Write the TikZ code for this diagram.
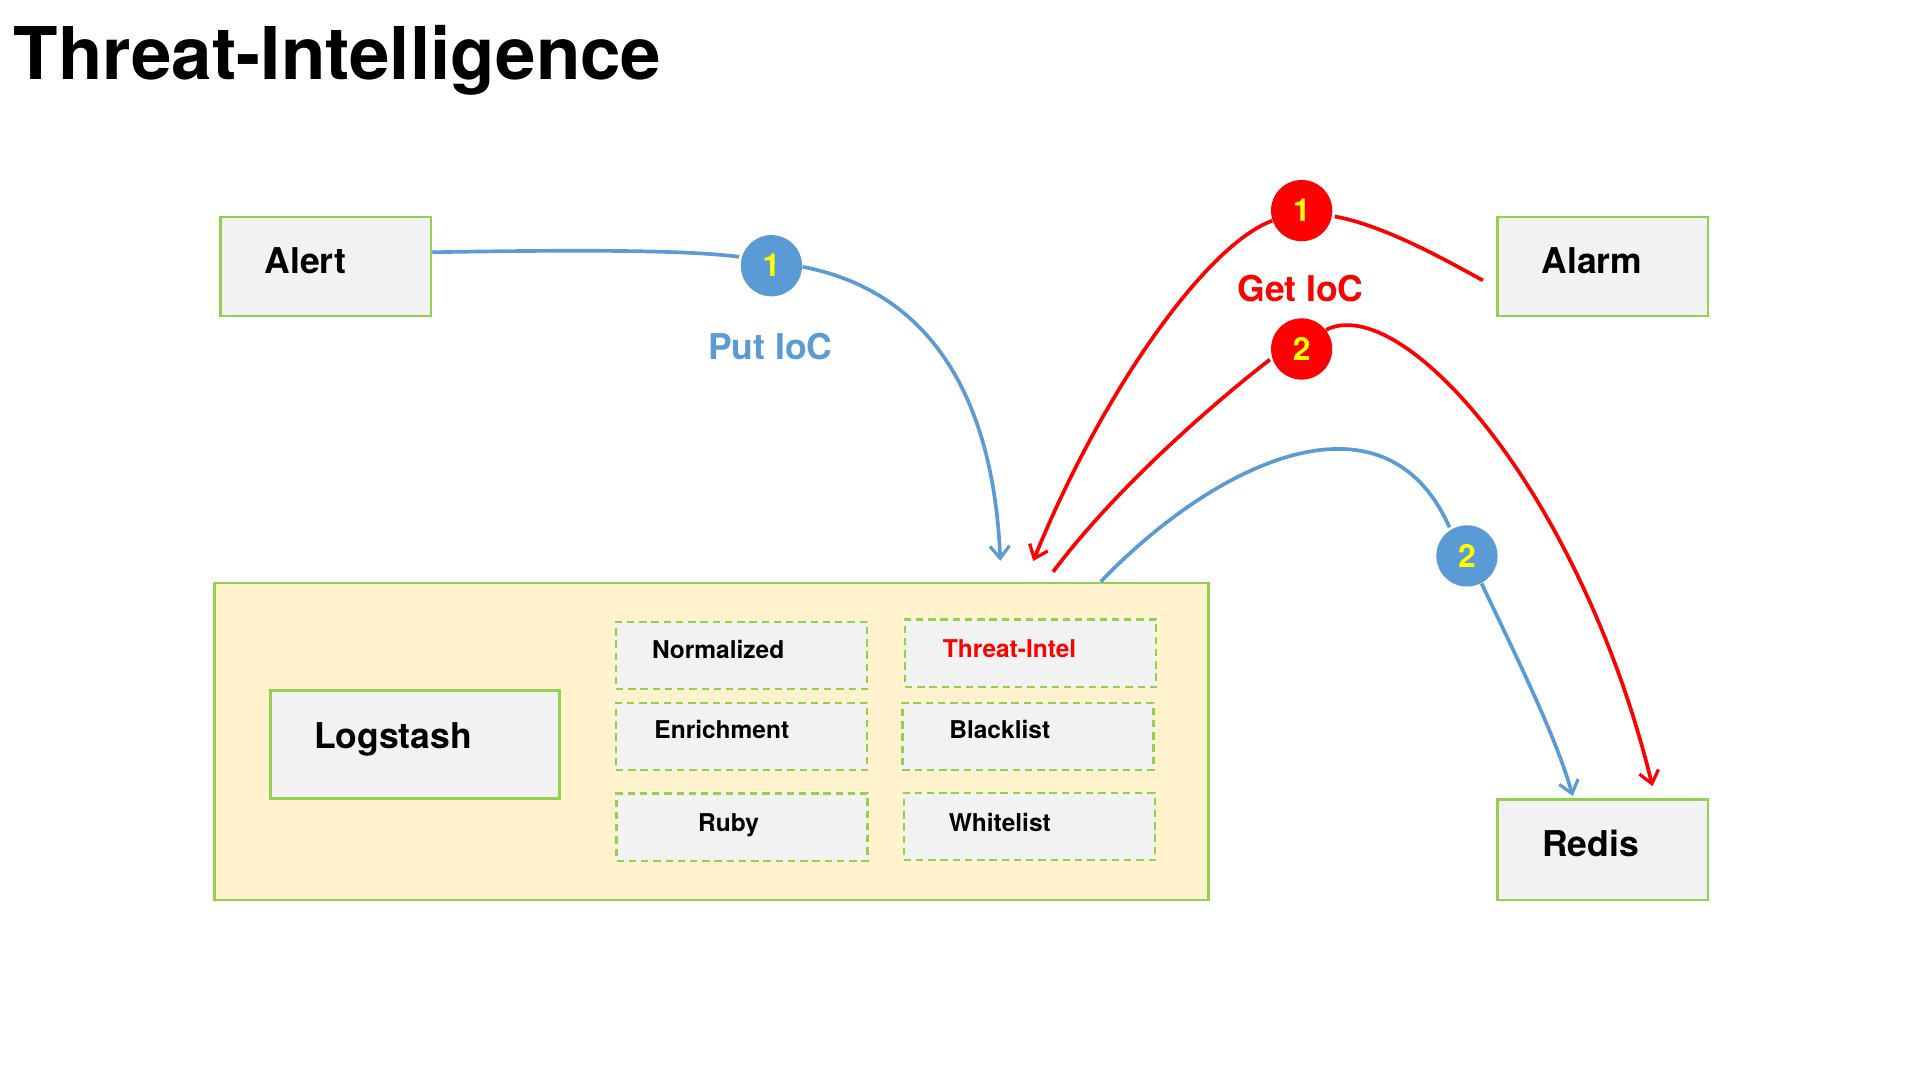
\documentclass[tikz,border=0pt]{standalone}
\usepackage{fontspec}
\setmainfont{TeX Gyre Heros}
\usetikzlibrary{arrows.meta}
\definecolor{boxgreen}{RGB}{146,208,80}
\definecolor{boxgray}{RGB}{242,242,242}
\definecolor{pipefill}{RGB}{255,242,204}
\definecolor{iocblue}{RGB}{91,155,213}
\definecolor{iocred}{RGB}{255,0,0}
\definecolor{numyellow}{RGB}{255,255,0}

\begin{document}
\begin{tikzpicture}[x=0.5pt,y=-0.5pt,
  box/.style={draw=boxgreen,fill=boxgray,line width=1pt,minimum width=86pt,minimum height=40.5pt,inner sep=0pt},
  plugin/.style={draw=boxgreen,fill=boxgray,line width=0.9pt,dash pattern=on 3pt off 2pt,minimum width=102.5pt,minimum height=27.5pt,inner sep=0pt},
  bigtext/.style={font=\bfseries\fontsize{14.5}{17}\selectfont,anchor=base,inner sep=0pt},
  smalltext/.style={font=\bfseries\fontsize{10}{12}\selectfont,anchor=base,inner sep=0pt},
  badge/.style={circle,minimum size=25pt,inner sep=0pt,text=numyellow,font=\bfseries\fontsize{13}{15}\selectfont},
  flow/.style={line width=1.5pt,shorten >=1pt},
  tip/.style={-{Straight Barb[length=5pt,width=8pt,line width=1.3pt]}}
]
\useasboundingbox (0,0) rectangle (1568,882);

% Title
\node (title) [anchor=base west,inner sep=0pt,font=\bfseries\fontsize{29.7}{36}\selectfont] at (11,65) {Threat-Intelligence};

%Shape: Rectangle
\node (alert) [box] at (266,217.5) {};
\node (alarm) [box] at (1309,217.5) {};
\node (redis) [box,minimum height=41pt] at (1309,694) {};
% Text Node
\node (alert-label) [bigtext] at (249.5,223.5) {Alert};
\node (alarm-label) [bigtext] at (1300,223) {Alarm};
\node (redis-label) [bigtext] at (1299,699.5) {Redis};

%Shape: Rectangle (pipeline)
\node (pipeline) [draw=boxgreen,fill=pipefill,line width=1pt,minimum width=406pt,minimum height=129.5pt,inner sep=0pt] at (581,605.5) {};
\node (logstash) [box,minimum width=118pt,minimum height=44pt] at (339,608) {};
\node (logstash-label) [bigtext] at (321,611) {Logstash};

%Shape: dashed plugins
\node (normalized) [plugin] at (605.5,535.5) {};
\node (threatintel) [plugin] at (841.5,533.5) {};
\node (enrichment) [plugin] at (605.5,601.5) {};
\node (blacklist) [plugin] at (839.5,601.5) {};
\node (ruby) [plugin] at (606,675.5) {};
\node (whitelist) [plugin] at (840.5,675) {};
% Text Node
\node (normalized-label) [smalltext] at (586.5,538) {Normalized};
\node (threatintel-label) [smalltext,text=iocred] at (824.5,537) {Threat-Intel};
\node (enrichment-label) [smalltext] at (589.5,603) {Enrichment};
\node (blacklist-label) [smalltext] at (816.5,603) {Blacklist};
\node (ruby-label) [smalltext] at (595,679) {Ruby};
\node (whitelist-label) [smalltext] at (816.5,679) {Whitelist};

% Badges
\node (b1) [badge,fill=iocblue] at (630,217) {1};
\node (b2) [badge,fill=iocblue] at (1198,454) {2};
\node (r1) [badge,fill=iocred] at (1063,172) {1};
\node (r2) [badge,fill=iocred] at (1063,285) {2};

% Text Node
\node (put-ioc) [bigtext,text=iocblue] at (629,293.5) {Put IoC};
\node (get-ioc) [bigtext,text=iocred] at (1062,246.5) {Get IoC};

\coordinate (put-end) at (817,460);
\coordinate (get-end) at (843,460);
\coordinate (ti-out) at (860,467);

%Curves: Put IoC
\draw [flow,draw=iocblue] ([yshift=5.75pt]alert.east) .. controls (470,204) and (560,204) .. (b1.164);
\draw [flow,draw=iocblue,tip] (b1.-2) .. controls (770,240) and (812,340) .. (put-end);
\draw [flow,draw=iocblue] ([xshift=159pt]pipeline.north) .. controls (990,380) and (1130,310) .. (b2.122);
\draw [flow,draw=iocblue,tip] (b2.298) .. controls (1240,540) and (1270,600) .. ([xshift=-12pt]redis.north);

%Curves: Get IoC
\draw [flow,draw=iocred] ([xshift=-5.5pt,yshift=-5.75pt]alarm.west) .. controls (1180,212) and (1130,184) .. (r1.-10);
\draw [flow,draw=iocred,tip] (r1.199) .. controls (985,200) and (900,320) .. (get-end);
\draw [flow,draw=iocred] (ti-out) .. controls (910,400) and (990,330) .. (r2.197);
\draw [flow,draw=iocred,tip] (r2.38) .. controls (1145,238) and (1290,400) .. ([xshift=20.5pt,yshift=4pt]redis.north);

\end{tikzpicture}
\end{document}
